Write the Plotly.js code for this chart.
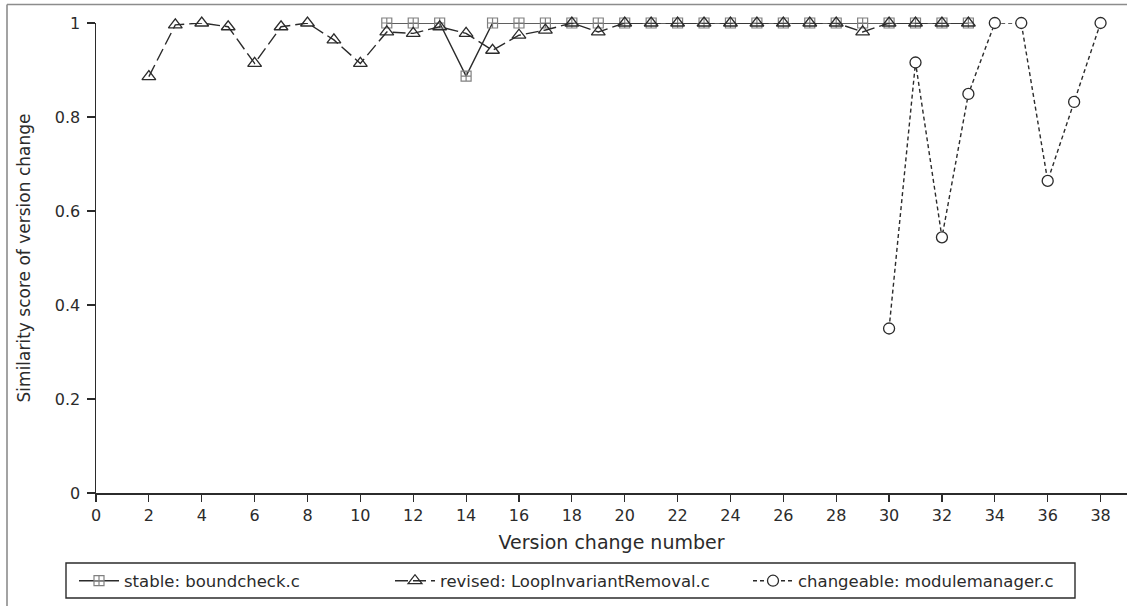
<!DOCTYPE html>
<html>
<head>
<meta charset="utf-8">
<script src="https://cdn.plot.ly/plotly-3.0.1.min.js"></script>
<style>
  html, body { margin: 0; padding: 0; background: #ffffff; }
  #chart { width: 1127px; height: 606px; }
</style>
</head>
<body>
<div id="chart"></div>
<script>
// ---- data ----
const stableX = [11, 12, 13, 14, 15, 16, 17, 18, 19, 20, 21, 22, 23, 24, 25, 26, 27, 28, 29, 30, 31, 32, 33];
const stableY = [1, 1, 1, 0.887, 1, 1, 1, 1, 1, 1, 1, 1, 1, 1, 1, 1, 1, 1, 1, 1, 1, 1, 1];

const revisedX = [2, 3, 4, 5, 6, 7, 8, 9, 10, 11, 12, 13, 14, 15, 16, 17, 18, 19, 20, 21, 22, 23, 24, 25, 26, 27, 28, 29, 30, 31, 32, 33];
const revisedY = [0.886, 0.996, 1.0, 0.992, 0.914, 0.992, 1.0, 0.964, 0.914, 0.981, 0.978, 0.992, 0.978, 0.942, 0.974, 0.985, 1.0, 0.981, 1.0, 1.0, 1.0, 1.0, 1.0, 1.0, 1.0, 1.0, 1.0, 0.981, 1.0, 1.0, 1.0, 1.0];

const changeableX = [30, 31, 32, 33, 34, 35, 36, 37, 38];
const changeableY = [0.35, 0.916, 0.544, 0.849, 1.0, 1.0, 0.664, 0.832, 1.0];

const seriesNames = ['stable: boundcheck.c', 'revised: LoopInvariantRemoval.c', 'changeable: modulemanager.c'];

const xTickVals = [0, 2, 4, 6, 8, 10, 12, 14, 16, 18, 20, 22, 24, 26, 28, 30, 32, 34, 36, 38];
const yTickVals = [0, 0.2, 0.4, 0.6, 0.8, 1];
const yTickText = ['0', '0.2', '0.4', '0.6', '0.8', '1'];
const xRange = [0, 39];
const yRange = [0, 1];

const xTitle = 'Version change number';
const yTitle = 'Similarity score of version change';

// ---- geometry ----
const W = 1127, H = 606;
const L = 96, R = 0, T = 23, B = 113;
const plotW = W - L - R, plotH = H - T - B;
const pxX = px => (px - L) / plotW;          // pixel -> paper x
const pxY = py => (H - B - py) / plotH;      // pixel -> paper y

const font = 'DejaVu Sans, Verdana, sans-serif';
const ink = '#2b2b2b';

const traces = [
  {
    x: stableX, y: stableY, name: seriesNames[0], type: 'scatter', mode: 'lines+markers',
    line: { color: ink, width: 1.4 },
    marker: { symbol: 'square-cross-open', size: 10, color: '#808080', line: { width: 1.2 } },
    cliponaxis: false, legend: 'legend'
  },
  {
    x: revisedX, y: revisedY, name: seriesNames[1], type: 'scatter', mode: 'lines+markers',
    line: { color: ink, width: 1.4, dash: '13px,5px' },
    marker: { symbol: 'triangle-up-open', size: 12, color: ink, line: { width: 1.3 } },
    cliponaxis: false, legend: 'legend2'
  },
  {
    x: changeableX, y: changeableY, name: seriesNames[2], type: 'scatter', mode: 'lines+markers',
    line: { color: ink, width: 1.4, dash: '4px,3px' },
    marker: { symbol: 'circle', size: 11, color: '#ffffff', line: { width: 1.3, color: ink } },
    cliponaxis: false, legend: 'legend3'
  }
];

const legendCommon = {
  orientation: 'h', xanchor: 'left', yanchor: 'middle',
  font: { family: font, size: 16.5, color: ink },
  bgcolor: 'rgba(0,0,0,0)', borderwidth: 0, itemwidth: 40
};

const layout = {
  width: W, height: H,
  margin: { l: L, r: R, t: T, b: B, pad: 0 },
  paper_bgcolor: '#ffffff', plot_bgcolor: '#ffffff',
  font: { family: font, size: 16, color: ink },
  xaxis: {
    range: xRange, tickmode: 'array', tickvals: xTickVals,
    ticks: 'outside', ticklen: 7, tickwidth: 1.2, tickcolor: ink,
    showline: true, linecolor: ink, linewidth: 1.5, showgrid: false, zeroline: false,
    tickfont: { family: font, size: 16, color: ink },
    title: { text: xTitle, font: { family: font, size: 19, color: ink }, standoff: 12 }
  },
  yaxis: {
    range: yRange, tickmode: 'array', tickvals: yTickVals, ticktext: yTickText,
    ticks: 'outside', ticklen: 8, tickwidth: 1.2, tickcolor: ink, ticklabelstandoff: 3,
    showline: true, linecolor: ink, linewidth: 1.5, showgrid: false, zeroline: false,
    tickfont: { family: font, size: 16, color: ink },
    title: { text: yTitle, font: { family: font, size: 17, color: ink }, standoff: 20 }
  },
  showlegend: true,
  legend:  Object.assign({}, legendCommon, { x: pxX(74),  y: pxY(581) }),
  legend2: Object.assign({}, legendCommon, { x: pxX(390), y: pxY(581) }),
  legend3: Object.assign({}, legendCommon, { x: pxX(748), y: pxY(581) }),
  shapes: [
    // outer frame (left and top)
    { type: 'line', xref: 'paper', yref: 'paper', x0: pxX(7), x1: pxX(7), y0: pxY(4.5), y1: pxY(H + 5), line: { color: '#8c8c8c', width: 1.6 } },
    { type: 'line', xref: 'paper', yref: 'paper', x0: pxX(7), x1: pxX(W + 5), y0: pxY(4.5), y1: pxY(4.5), line: { color: '#8c8c8c', width: 1.6 } },
    // legend box
    { type: 'rect', xref: 'paper', yref: 'paper', x0: pxX(66), x1: pxX(1075), y0: pxY(563), y1: pxY(598), line: { color: ink, width: 1.4 }, fillcolor: 'rgba(0,0,0,0)' }
  ]
};

Plotly.newPlot('chart', traces, layout, { displayModeBar: false, staticPlot: true });
</script>
</body>
</html>
